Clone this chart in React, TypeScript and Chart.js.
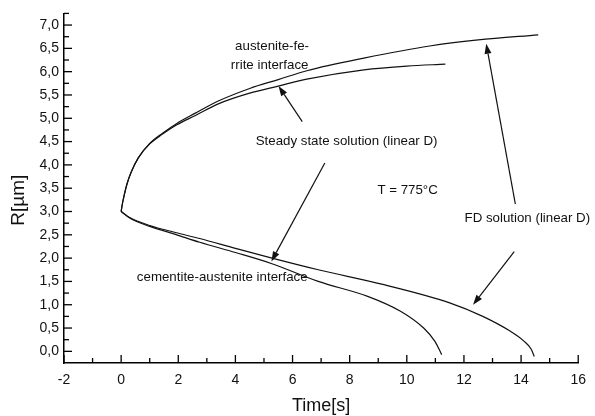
import React, { useEffect, useRef } from "react";
import { Chart, registerables } from "chart.js";

Chart.register(...registerables);

// ---- data (Time [s], R [µm]) ----
const fdUpperT = [0, 0.04, 0.1, 0.2, 0.35, 0.6, 1.0, 1.45, 1.95, 2.6, 3.4, 4.5, 5.5, 6.5, 8.5, 10.8, 12.5, 14.6];
const fdUpperR = [3.0, 3.15, 3.33, 3.58, 3.84, 4.15, 4.46, 4.68, 4.89, 5.11, 5.37, 5.64, 5.83, 6.02, 6.29, 6.55, 6.68, 6.79];

const ssUpperT = [0, 0.04, 0.1, 0.2, 0.35, 0.6, 1.0, 1.45, 1.95, 2.6, 3.4, 4.5, 5.5, 6.5, 8.5, 10.0, 11.35];
const ssUpperR = [3.0, 3.15, 3.33, 3.58, 3.84, 4.15, 4.45, 4.66, 4.86, 5.06, 5.31, 5.54, 5.69, 5.84, 6.04, 6.12, 6.16];

const fdLowerT = [0, 0.3, 1.0, 1.9, 2.75, 4.0, 5.28, 6.9, 9.2, 11.5, 12.66, 13.6, 14.1, 14.35, 14.46];
const fdLowerR = [3.0, 2.87, 2.7, 2.55, 2.42, 2.21, 2.0, 1.75, 1.43, 1.04, 0.75, 0.44, 0.22, 0.05, -0.11];

const ssLowerT = [0, 0.3, 1.0, 1.9, 2.75, 4.0, 5.28, 6.9, 8.63, 9.78, 10.59, 10.99, 11.22];
const ssLowerR = [3.0, 2.86, 2.68, 2.51, 2.34, 2.12, 1.88, 1.5, 1.18, 0.86, 0.5, 0.21, -0.07];

// ---- axes ----
const xMin = -2;
const xMax = 16;
const yMin = -0.25;
const yMax = 7.25;
const xTickValues = [-2, 0, 2, 4, 6, 8, 10, 12, 14, 16];
const xMinorValues = [-1, 1, 3, 5, 7, 9, 11, 13, 15];
const yTickValues = [0, 0.5, 1, 1.5, 2, 2.5, 3, 3.5, 4, 4.5, 5, 5.5, 6, 6.5, 7];
const yMinorValues = [0.25, 0.75, 1.25, 1.75, 2.25, 2.75, 3.25, 3.75, 4.25, 4.75, 5.25, 5.75, 6.25, 6.75, 7.25];

const xTitle = "Time[s]";
const yTitle = "R[µm]";

// ---- annotations (data coordinates) ----
const labels = [
  { text: "austenite-fe-", t: 3.99, r: 6.54 },
  { text: "rrite interface", t: 3.84, r: 6.14 },
  { text: "Steady state solution (linear D)", t: 4.71, r: 4.5 },
  { text: "T = 775°C", t: 8.97, r: 3.46 },
  { text: "FD solution (linear D)", t: 12.02, r: 2.86 },
  { text: "cementite-austenite interface", t: 0.55, r: 1.58 },
];
const arrows = [
  { t0: 6.34, r0: 4.93, t1: 5.51, r1: 5.69 },
  { t0: 13.8, r0: 3.16, t1: 12.78, r1: 6.6 },
  { t0: 7.13, r0: 4.04, t1: 5.26, r1: 1.93 },
  { t0: 13.76, r0: 2.14, t1: 12.32, r1: 1.0 },
];

const FONT = "'Liberation Sans', Arial, Helvetica, sans-serif";
const INK = "#111";

const pts = (t: number[], r: number[]) => t.map((x, i) => ({ x, y: r[i] }));

const decor = {
  id: "decor",
  afterDraw(chart: any) {
    const { ctx, chartArea } = chart;
    const x = chart.scales.x;
    const y = chart.scales.y;
    const ax = x.getPixelForValue(xMin);
    const ay = y.getPixelForValue(yMin);
    ctx.save();
    ctx.strokeStyle = "#000";
    ctx.lineWidth = 1.3;
    // inward ticks
    yTickValues.forEach((v) => {
      const py = y.getPixelForValue(v);
      ctx.beginPath(); ctx.moveTo(ax, py); ctx.lineTo(ax + 8, py); ctx.stroke();
    });
    yMinorValues.forEach((v) => {
      const py = y.getPixelForValue(v);
      ctx.beginPath(); ctx.moveTo(ax, py); ctx.lineTo(ax + 5, py); ctx.stroke();
    });
    xTickValues.forEach((v) => {
      const px = x.getPixelForValue(v);
      ctx.beginPath(); ctx.moveTo(px, ay); ctx.lineTo(px, ay - 8); ctx.stroke();
    });
    xMinorValues.forEach((v) => {
      const px = x.getPixelForValue(v);
      ctx.beginPath(); ctx.moveTo(px, ay); ctx.lineTo(px, ay - 5); ctx.stroke();
    });

    // annotations
    ctx.fillStyle = INK;
    ctx.font = `13.3px ${FONT}`;
    ctx.textAlign = "left";
    ctx.textBaseline = "middle";
    labels.forEach((l) => {
      ctx.fillText(l.text, x.getPixelForValue(l.t), y.getPixelForValue(l.r));
    });

    // arrows
    ctx.strokeStyle = INK;
    ctx.lineWidth = 1.2;
    arrows.forEach((a) => {
      const x0 = x.getPixelForValue(a.t0), y0 = y.getPixelForValue(a.r0);
      const x1 = x.getPixelForValue(a.t1), y1 = y.getPixelForValue(a.r1);
      const ang = Math.atan2(y1 - y0, x1 - x0);
      const L = 10, W = 3.5;
      const bx = x1 - L * Math.cos(ang), by = y1 - L * Math.sin(ang);
      ctx.beginPath(); ctx.moveTo(x0, y0); ctx.lineTo(bx, by); ctx.stroke();
      ctx.beginPath();
      ctx.moveTo(x1, y1);
      ctx.lineTo(bx + W * Math.sin(ang), by - W * Math.cos(ang));
      ctx.lineTo(bx - W * Math.sin(ang), by + W * Math.cos(ang));
      ctx.closePath();
      ctx.fill();
    });

    // axis titles
    ctx.font = `18px ${FONT}`;
    ctx.textAlign = "center";
    ctx.textBaseline = "middle";
    ctx.fillText(xTitle, (chartArea.left + chartArea.right) / 2, 406);
    ctx.save();
    ctx.font = `19px ${FONT}`;
    ctx.translate(19, (chartArea.top + chartArea.bottom) / 2 + 12);
    ctx.rotate(-Math.PI / 2);
    ctx.fillText(yTitle, 0, 0);
    ctx.restore();
    ctx.restore();
  },
};

export default function App() {
  const ref = useRef<HTMLCanvasElement>(null);
  useEffect(() => {
    if (!ref.current) return;
    const line = (data: any) => ({
      data,
      showLine: true,
      borderColor: INK,
      borderWidth: 1.2,
      pointRadius: 0,
      cubicInterpolationMode: "monotone" as const,
      fill: false,
    });
    const chart = new Chart(ref.current, {
      type: "scatter",
      data: {
        datasets: [
          line(pts(fdUpperT, fdUpperR)),
          line(pts(ssUpperT, ssUpperR)),
          line(pts(fdLowerT, fdLowerR)),
          line(pts(ssLowerT, ssLowerR)),
        ],
      },
      options: {
        responsive: false,
        animation: false,
        devicePixelRatio: 1,
        layout: { padding: { top: 13, right: 12, left: 0, bottom: 0 } },
        plugins: { legend: { display: false }, tooltip: { enabled: false }, title: { display: false } },
        scales: {
          x: {
            type: "linear",
            min: xMin,
            max: xMax,
            afterBuildTicks: (s: any) => { s.ticks = xTickValues.map((v) => ({ value: v })); },
            afterFit: (s: any) => { s.height = 53; },
            grid: { display: true, drawOnChartArea: false, drawTicks: false },
            border: { display: true, color: "#000", width: 1.5 },
            ticks: {
              padding: 9,
              color: INK,
              font: { family: FONT, size: 14 },
              maxRotation: 0,
              autoSkip: false,
              callback: (v: any) => String(v),
            },
          },
          y: {
            type: "linear",
            min: yMin,
            max: yMax,
            afterBuildTicks: (s: any) => { s.ticks = yTickValues.map((v) => ({ value: v })); },
            afterFit: (s: any) => { s.width = 64; },
            grid: { display: true, drawOnChartArea: false, drawTicks: false },
            border: { display: true, color: "#000", width: 1.5 },
            ticks: {
              padding: 5,
              color: INK,
              font: { family: FONT, size: 14 },
              autoSkip: false,
              callback: (v: any) => Number(v).toFixed(1).replace(".", ","),
            },
          },
        },
      },
      plugins: [decor],
    });
    return () => chart.destroy();
  }, []);
  return (
    <div style={{ position: "fixed", left: 0, top: 0, width: 595, height: 416, background: "#fff" }}>
      <canvas ref={ref} width={595} height={416} style={{ display: "block" }} />
    </div>
  );
}
